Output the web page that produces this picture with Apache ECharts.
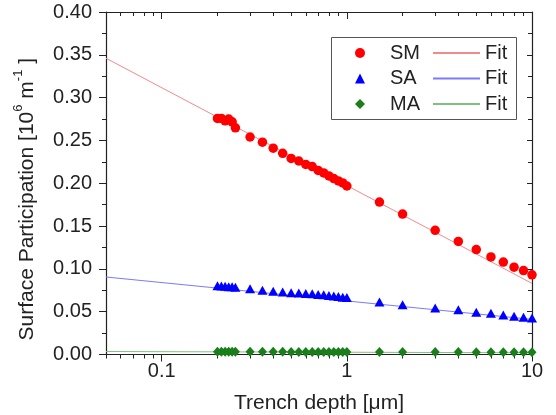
<!DOCTYPE html>
<html>
<head>
<meta charset="utf-8">
<script src="https://cdn.jsdelivr.net/npm/echarts@6/dist/echarts.min.js"></script>
<style>html,body{margin:0;padding:0;background:#fff}#c{width:556px;height:415px}</style>
</head>
<body>
<div id="c"></div>
<script>
// ---- data ----
const depth = [0.2,0.21,0.22,0.23,0.24,0.25,0.3,0.35,0.4,0.45,0.5,0.55,0.6,0.65,0.7,0.75,0.8,0.85,0.9,0.95,1.0,1.5,2,3,4,5,6,7,8,9,10];
const smVals = [0.2757,0.2757,0.2729,0.2749,0.2717,0.2647,0.254,0.248,0.241,0.235,0.229,0.226,0.222,0.2195,0.215,0.212,0.2085,0.2055,0.2027,0.2004,0.1968,0.178,0.164,0.145,0.132,0.1225,0.114,0.108,0.102,0.098,0.093];
const saVals = [0.0802,0.0801,0.0796,0.0792,0.079,0.0786,0.0768,0.0749,0.074,0.0729,0.0722,0.0717,0.0713,0.071,0.0702,0.0698,0.069,0.0682,0.0676,0.067,0.0665,0.0612,0.058,0.0542,0.0523,0.0492,0.0483,0.0462,0.0448,0.0435,0.0425];
const maVals = [0.0032,0.0032,0.0032,0.0032,0.0032,0.0032,0.0031,0.0031,0.0031,0.0031,0.003,0.003,0.003,0.003,0.003,0.003,0.003,0.003,0.003,0.003,0.003,0.0029,0.0029,0.0028,0.0028,0.0027,0.0027,0.0027,0.0026,0.0026,0.0026];
const fitX = [0.05, 10];
const smFit = [0.346, 0.083];
const saFit = [0.0905, 0.041];
const maFit = [0.0035, 0.002];
const xMajorTicks = [0.1, 1, 10];
const xMinorTicks = [0.05,0.06,0.07,0.08,0.09,0.2,0.3,0.4,0.5,0.6,0.7,0.8,0.9,2,3,4,5,6,7,8,9];
const seriesNames = ['SM','SA','MA'];
const fitNames = ['SM Fit','SA Fit','MA Fit'];

const FONT = "'Liberation Sans', Arial, sans-serif";
const pair = (xs, ys) => xs.map((x, i) => [x, ys[i]]);

const chart = echarts.init(document.getElementById('c'), null, {renderer: 'canvas'});

function xAx(pos, ticks, len, inside, labels) {
  return {
    type: 'log', logBase: 10, min: 0.05, max: 10, position: pos,
    axisLine: {show: true, onZero: false, lineStyle: {color: '#222', width: 1.2}},
    axisTick: {show: true, inside: inside, length: len, customValues: ticks, lineStyle: {color: '#222', width: 1}},
    axisLabel: labels ? {show: true, customValues: xMajorTicks, margin: 7, color: '#222', fontSize: 20, fontFamily: FONT,
      formatter: v => String(+v.toPrecision(3))} : {show: false},
    splitLine: {show: false}, minorTick: {show: false}
  };
}

const option = {
  animation: false,
  backgroundColor: '#fff',
  grid: {left: 106, right: 24, top: 12, bottom: 60.5, containLabel: false, outerBoundsMode: 'none'},
  xAxis: [
    Object.assign(xAx('bottom', xMajorTicks, 7, false, true), {
      name: 'Trench depth [μm]', nameLocation: 'middle', nameGap: 38,
      nameTextStyle: {fontSize: 21, color: '#222', fontFamily: FONT}
    }),
    xAx('bottom', xMinorTicks, 4, false, false),
    xAx('top', xMajorTicks, 7, true, false),
    xAx('top', xMinorTicks, 4, true, false)
  ],
  yAxis: [
    {
      type: 'value', min: 0, max: 0.4, interval: 0.05, position: 'left',
      name: '{a|Surface Participation [10}{s|6}{a| m}{s|-1}{a| ]}',
      nameLocation: 'middle', nameGap: 68, nameRotate: 90,
      nameTextStyle: {padding: [0, 32, 0, 0], rich: {
        a: {fontSize: 21, color: '#222', fontFamily: FONT, lineHeight: 26, verticalAlign: 'bottom'},
        s: {fontSize: 13, color: '#222', fontFamily: FONT, lineHeight: 26, verticalAlign: 'top'}
      }},
      axisLine: {show: true, lineStyle: {color: '#222', width: 1.2}},
      axisTick: {show: true, inside: false, length: 7, lineStyle: {color: '#222'}},
      minorTick: {show: true, splitNumber: 2, length: 4, lineStyle: {color: '#222'}},
      axisLabel: {margin: 14, color: '#222', fontSize: 20, fontFamily: FONT, formatter: v => v.toFixed(2)},
      splitLine: {show: false}
    },
    {
      type: 'value', min: 0, max: 0.4, interval: 0.05, position: 'right',
      axisLine: {show: true, lineStyle: {color: '#222', width: 1.2}},
      axisTick: {show: true, inside: true, length: 5, lineStyle: {color: '#222'}},
      minorTick: {show: true, splitNumber: 2, length: 4, lineStyle: {color: '#222'}},
      axisLabel: {show: false},
      splitLine: {show: false}
    }
  ],
  legend: [
    {
      data: seriesNames, orient: 'vertical', left: 355, top: 43, padding: 0,
      itemWidth: 10, itemHeight: 10, itemGap: 5.5, selectedMode: false,
      textStyle: {fontSize: 20, color: '#222', fontFamily: FONT, lineHeight: 20, padding: [0, 0, 0, 20]}
    },
    {
      data: fitNames, orient: 'vertical', left: 432, top: 43, padding: 0,
      itemWidth: 47, itemHeight: 10, itemGap: 5.5, selectedMode: false,
      itemStyle: {opacity: 0},
      formatter: () => 'Fit',
      textStyle: {fontSize: 20, color: '#222', fontFamily: FONT, lineHeight: 20}
    }
  ],
  graphic: [{
    type: 'rect', left: 329, top: 35, z: 10, silent: true,
    shape: {width: 185, height: 82},
    style: {fill: 'none', stroke: '#555', lineWidth: 1}
  }],
  series: [
    {name: 'SM Fit', type: 'line', data: pair(fitX, smFit), symbol: 'none', showSymbol: false,
      lineStyle: {color: '#f28a8a', width: 1}, itemStyle: {color: '#f28a8a'}, z: 1},
    {name: 'SA Fit', type: 'line', data: pair(fitX, saFit), symbol: 'none', showSymbol: false,
      lineStyle: {color: '#7a7aff', width: 1}, itemStyle: {color: '#7a7aff'}, z: 1},
    {name: 'MA Fit', type: 'line', data: pair(fitX, maFit), symbol: 'none', showSymbol: false,
      lineStyle: {color: '#7fc27f', width: 1}, itemStyle: {color: '#7fc27f'}, z: 1},
    {name: 'SM', type: 'scatter', data: pair(depth, smVals), symbol: 'circle', symbolSize: 9.5,
      itemStyle: {color: '#ff0000', opacity: 1}, z: 3},
    {name: 'SA', type: 'scatter', data: pair(depth, saVals), symbol: 'triangle', symbolSize: [10, 9],
      itemStyle: {color: '#0000ff', opacity: 1}, z: 3},
    {name: 'MA', type: 'scatter', data: pair(depth, maVals), symbol: 'diamond', symbolSize: [9, 10],
      itemStyle: {color: '#1a7f1a', opacity: 1}, z: 3}
  ]
};
chart.setOption(option);
</script>
</body>
</html>
